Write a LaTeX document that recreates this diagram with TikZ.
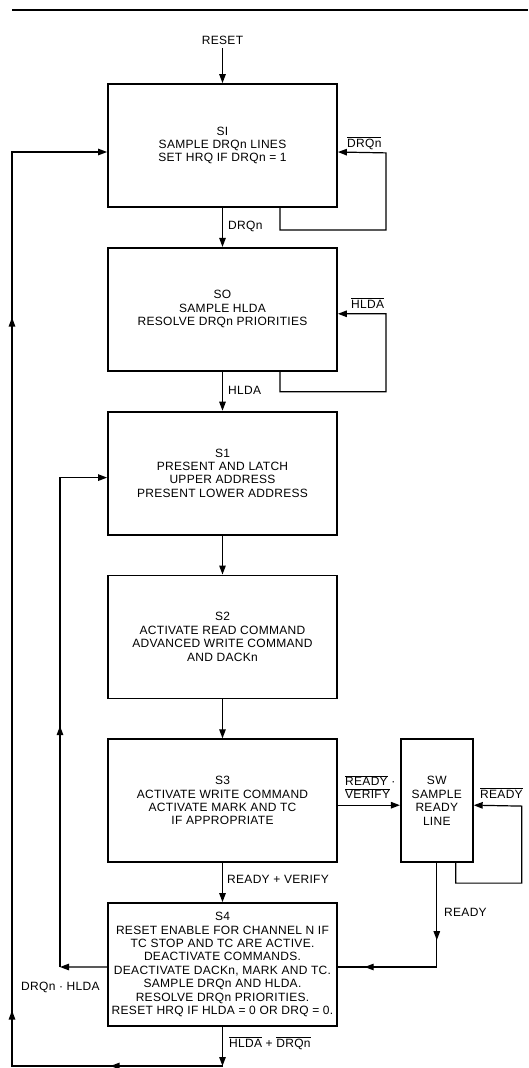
\documentclass[tikz,border=0pt]{standalone}
\usepackage{fontspec}
\setmainfont{Liberation Sans}[LetterSpace=2.5]
\usetikzlibrary{arrows.meta,positioning,decorations.markings}
\newcommand{\diagfont}{\fontsize{12}{13.4}\selectfont}
\newcommand{\ovl}[1]{$\overline{\hbox{#1}}$}

\begin{document}
\begin{tikzpicture}[x=1pt, y=-1pt,
    font=\diagfont,
    state/.style={draw, line width=1.8pt, minimum width=229pt,
      minimum height=123pt, align=center, inner sep=2pt},
    waitstate/.style={state, minimum width=72pt},
    line/.style={line width=1.2pt},
    arrow/.style={line, -{Triangle[length=9pt,width=6.5pt]}},
    tipat/.style={postaction={decorate, decoration={markings,
      mark=at position #1 with {\arrow{Triangle[length=9pt,width=6.5pt]}}}}},
    lbl/.style={inner sep=0pt, anchor=base west}
  ]
    \useasboundingbox (0,0) rectangle (528,1068);
    \draw[line width=1.5pt] (12,10) -- (528,10);

    \node (reset) at (222.5,40) {RESET};
    \node[state] (si) at (222.5,145.5) {SI\\SAMPLE DRQn LINES\\SET HRQ IF DRQn = 1};
    \node[state, below=39pt of si] (so) {SO\\SAMPLE HLDA\\RESOLVE DRQn PRIORITIES};
    \node[state, below=39pt of so] (s1) {S1\\PRESENT AND LATCH\\UPPER ADDRESS\\PRESENT LOWER ADDRESS};
    \node[state, below=39pt of s1] (s2) {S2\\ACTIVATE READ COMMAND\\ADVANCED WRITE COMMAND\\AND DACKn};
    \node[state, below=39pt of s2] (s3) {S3\\ACTIVATE WRITE COMMAND\\ACTIVATE MARK AND TC\\IF APPROPRIATE};
    \node[waitstate, right=62pt of s3] (sw) {SW\\SAMPLE\\READY\\LINE};
    \node[state, below=39pt of s3] (s4) {S4\\RESET ENABLE FOR CHANNEL N IF\\TC STOP AND TC ARE ACTIVE.\\DEACTIVATE COMMANDS.\\DEACTIVATE DACKn, MARK AND TC.\\SAMPLE DRQn AND HLDA.\\RESOLVE DRQn PRIORITIES.\\RESET HRQ IF HLDA = 0 OR DRQ = 0.};

    \coordinate (back1) at (60,967);
    \coordinate (back2) at (222.5,1066);
    \coordinate (back3) at (12,1066);

    % main sequence
    \draw[arrow] (reset) -- (si);
    \draw[arrow] (si) -- (so);
    \draw[arrow] (so) -- (s1);
    \draw[arrow] (s1) -- (s2);
    \draw[arrow] (s2) -- (s3);
    \draw[arrow] (s3) -- (s4);
    \draw[arrow] ([yshift=-4.5pt]s3.east) -- ([yshift=-4.5pt]sw.west);

    % wait loops
    \draw[arrow] ([xshift=57.5pt]si.south) -- ++(0,22) -| ++(106,-77) -- ([yshift=-6.5pt]si.east);
    \draw[arrow] ([xshift=57.5pt]so.south) -- ++(0,20) -| ++(106,-78) -- ([yshift=-4.5pt]so.east);
    \draw[arrow] ([xshift=19pt]sw.south) -- ++(0,20) -| ++(66,-77) -- ([yshift=-4.5pt]sw.east);
    \draw[line, tipat=77pt, tipat=176pt] (sw.south) |- ([yshift=-2.5pt]s4.east);

    % return paths
    \draw[arrow] ([yshift=-2.5pt]s4.west) -- (back1);
    \draw[arrow, tipat=241pt] (back1) |- ([yshift=-4.5pt]s1.west);
    \draw[arrow] (s4) -- (back2);
    \draw[arrow, tipat=112pt, tipat=266pt, tipat=959pt] (back2) -- (back3) |- ([yshift=-6.5pt]si.west);

    \node[lbl] (lnodrq) at (347,147) {\ovl{DRQn}};
    \node[lbl] (ldrq) at (228,229) {DRQn};
    \node[lbl] (lnohlda) at (351,308) {\ovl{HLDA}};
    \node[lbl] (lhlda) at (228,394) {HLDA};
    \node[lbl, anchor=west, align=left] (lnoready) at (345,787) {\ovl{READY}~·\\\ovl{VERIFY}};
    \node[lbl] (lwait) at (480,798) {\ovl{READY}};
    \node[lbl] (lready) at (444,916) {READY};
    \node[lbl] (lverify) at (227,883) {READY + VERIFY};
    \node[lbl] (lagain) at (21,990) {DRQn · HLDA};
    \node[lbl] (lidle) at (229,1047) {\ovl{HLDA} + \ovl{DRQn}};
  \end{tikzpicture}
\end{document}
